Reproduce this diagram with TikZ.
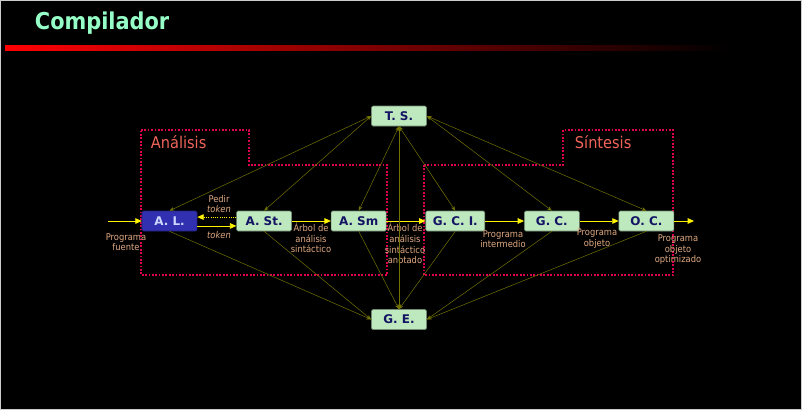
\documentclass[tikz,border=0pt]{standalone}
\usepackage{fontspec}
\setmainfont{DejaVu Sans}
\newfontfamily\condfont{DejaVu Sans Condensed}
\usepackage{xcolor}
\usepackage{tikz}
\definecolor{titlemint}{RGB}{150,255,200}
\definecolor{lexblue}{RGB}{48,48,176}
\definecolor{lexlight}{RGB}{205,215,255}
\definecolor{phasegreen}{RGB}{190,232,190}
\definecolor{phasenavy}{RGB}{20,20,100}
\definecolor{notetan}{RGB}{225,170,130}
\definecolor{regioncrimson}{RGB}{225,0,80}
\definecolor{regionsalmon}{RGB}{240,100,90}
\definecolor{olivelink}{RGB}{115,115,0}
\usetikzlibrary{positioning,arrows.meta}

\begin{document}
\begin{tikzpicture}[
    x=0.025cm, y=-0.025cm,
    node distance=0.975cm,
    phase/.style={rectangle, rounded corners=1pt, minimum width=1.375cm, minimum height=0.5cm, inner sep=2pt, draw=phasegreen!60!black, fill=phasegreen, text=phasenavy, font=\fontsize{8.5}{10}\selectfont\bfseries},
    lexer/.style={phase, draw=lexblue!70!black, fill=lexblue, text=lexlight},
    note/.style={font=\condfont\fontsize{6.6}{7.5}\selectfont, text=notetan, align=center, inner sep=0pt},
    region/.style={draw=regioncrimson, line width=1.4pt, dash pattern=on 1.2pt off 1.2pt},
    flow/.style={-{Triangle[length=1.6mm, width=1.4mm]}, draw=yellow, line width=0.6pt},
    link/.style={{Stealth[length=1.2mm]}-{Stealth[length=1.2mm]}, draw=olivelink, line width=0.35pt},
    tolog/.style={-{Stealth[length=1.2mm]}, draw=olivelink, line width=0.35pt},
]
% Slide background
\fill[black] (0,0) rectangle (802,410);
\draw[gray!40] (0.5,0.5) rectangle (801.5,409.5);

% Title and bar
\node (title) [anchor=west, text=titlemint, font=\condfont\bfseries\fontsize{16.5}{18}\selectfont] at (30,23.5) {Compilador};
\shade[left color=red, middle color=red!75!black, right color=black] (5,45) rectangle (730,50);

% Regions
\draw[region] (141,130) -- (249,130) -- (249,165) -- (387,165) -- (387,275) -- (141,275) -- cycle;
\draw[region] (424,165) -- (563,165) -- (563,130) -- (673,130) -- (673,275) -- (424,275) -- cycle;
\node (analisis) [anchor=west, text=regionsalmon, font=\condfont\fontsize{11.5}{13}\selectfont] at (146,142) {Análisis};
\node (sintesis) [anchor=west, text=regionsalmon, font=\condfont\fontsize{11.5}{13}\selectfont] at (570,142) {Síntesis};

% Phases
\node (al) [lexer] at (169.5,221) {A. L.};
\node (ast) [phase, right=of al] {A. St.};
\node (asm) [phase, right=of ast] {A. Sm};
\node (gci) [phase, right=of asm, minimum width=1.475cm] {G. C. I.};
\node (gc) [phase, right=of gci] {G. C.};
\node (oc) [phase, right=of gc] {O. C.};

% Table and error handler
\node (ts) [phase] at (399,116) {T. S.};
\node (ge) [phase] at (399,319.5) {G. E.};

% Main flow
\coordinate (in) at (108,221);
\coordinate (out) at (694,221);
\draw[flow] (in) -- (al);
\draw[flow] ([yshift=-3.5pt]al.east) -- ([yshift=-3.5pt]ast.west);
\draw[flow, densely dotted] ([yshift=2.8pt]ast.west) -- ([yshift=2.8pt]al.east);
\draw[flow] (ast) -- (asm);
\draw[flow] (asm) -- (gci);
\draw[flow] (gci) -- (gc);
\draw[flow] (gc) -- (oc);
\draw[flow] (oc) -- (out);

% Labels
\node (pedir) [note] at (219,204) {Pedir\\\textit{token}};
\node (token) [note] at (219,235) {\textit{token}};
\node (fuente) [note] at (126,242) {Programa\\fuente};
\node (arbol) [note] at (311,238) {Árbol de\\análisis\\sintáctico};
\node (anotado) [note] at (405,243.5) {Árbol de\\análisis\\sintáctico\\anotado};
\node (interm) [note] at (503,239) {Programa\\intermedio};
\node (objeto) [note] at (597,238.5) {Programa\\objeto};
\node (optim) [note] at (678,250) {Programa\\objeto\\optimizado};

% Symbol table links
\draw[link] (ts.west) -- (al.north);
\draw[link] (ts.west) -- (ast.north);
\draw[link] (ts.south) -- (asm.north);
\draw[link] (ts.south) -- (ge.north);
\draw[link] (ts.south) -- (gci.north);
\draw[link] (ts.east) -- (gc.north);
\draw[link] (ts.east) -- (oc.north);

% Error links
\draw[tolog] (al.south) -- (ge.west);
\draw[tolog] (ast.south) -- (ge.west);
\draw[tolog] (asm.south) -- (ge.north);
\draw[tolog] (gci.south) -- (ge.north);
\draw[tolog] (gc.south) -- (ge.east);
\draw[tolog] (oc.south) -- (ge.east);

\end{tikzpicture}
\end{document}
